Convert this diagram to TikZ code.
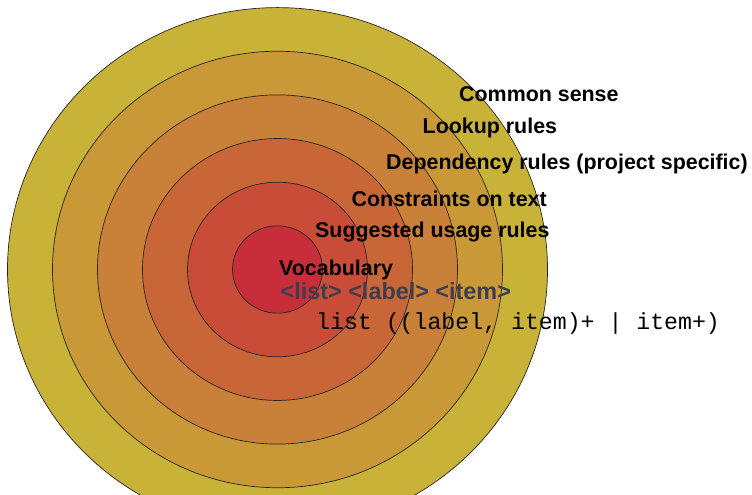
\documentclass[tikz,border=0pt]{standalone}
\usepackage{fontspec}
\setmainfont{Liberation Sans}
\setmonofont{Liberation Mono}
\definecolor{ringa}{RGB}{200,46,58}
\definecolor{ringb}{RGB}{200,76,56}
\definecolor{ringc}{RGB}{201,102,56}
\definecolor{ringd}{RGB}{201,128,56}
\definecolor{ringe}{RGB}{201,153,56}
\definecolor{ringf}{RGB}{200,178,56}
\definecolor{tagcol}{RGB}{62,62,78}

\begin{document}
\begin{tikzpicture}[x=1pt, y=1pt,
  ring/.style={draw=black!85, line width=0.7pt},
  lyr/.style={anchor=base west, inner sep=0pt, font=\fontsize{21.4}{24}\selectfont\bfseries},
  tag/.style={anchor=base west, inner sep=0pt, text=tagcol, font=\fontsize{23.4}{26}\selectfont\bfseries},
  code/.style={anchor=base west, inner sep=0pt, font=\fontsize{23.2}{26}\selectfont\ttfamily}]
  \clip (0,0) rectangle (752,495);
  % rings, outside in
  \foreach \r/\c in {270/ringf, 225/ringe, 180/ringd, 135/ringc, 90/ringb, 45/ringa}
    \draw[ring, fill=\c] (277.5,225.5) ellipse [x radius=\r pt, y radius={0.97*\r pt}];
  \node[lyr] (common) at (459,393) {Common sense};
  \node[lyr] (lookup) at (422.5,361) {Lookup rules};
  \node[lyr] (depend) at (386,325) {Dependency rules (project specific)};
  \node[lyr] (constr) at (351.5,288) {Constraints on text};
  \node[lyr] (usage) at (315,257) {Suggested usage rules};
  \node[lyr] (vocab) at (279,219) {Vocabulary};
  \node[tag] (elems) at (280.5,195) {<list> <label> <item>};
  \node[code] (model) at (316,165) {list ((label, item)+ | item+)};
\end{tikzpicture}
\end{document}
